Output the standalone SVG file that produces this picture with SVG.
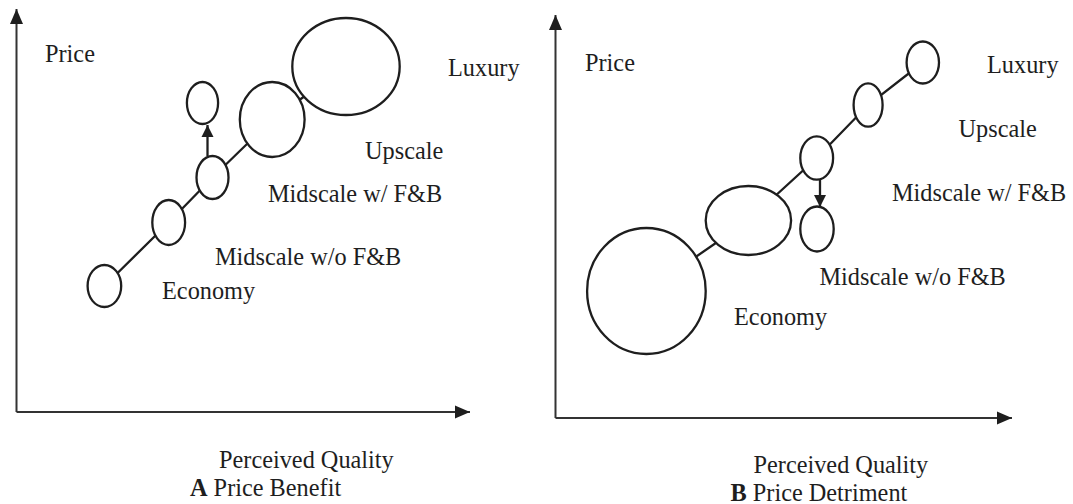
<svg xmlns="http://www.w3.org/2000/svg" width="1073" height="504" viewBox="0 0 1073 504">
<defs>
<style>
text{font-family:"Liberation Serif","Times New Roman",serif;font-size:24.3px;fill:#1e1e1e}
.b{font-weight:bold}
.n{fill:#fff;stroke:#1e1e1e;stroke-width:2.3}
.c{stroke:#1e1e1e;stroke-width:2.3;fill:none}
.ax{stroke:#333;stroke-width:2;fill:none}
</style>
<marker id="ah" markerUnits="userSpaceOnUse" markerWidth="16" markerHeight="14" refX="15" refY="7" orient="auto"><path d="M0,0.5L15,7L0,13.5Z" fill="#1e1e1e"/></marker>
<marker id="sh" markerUnits="userSpaceOnUse" markerWidth="14" markerHeight="13" refX="12" refY="6.5" orient="auto"><path d="M0,0.5L12,6.5L0,12.5Z" fill="#1e1e1e"/></marker>
</defs>
<rect width="1073" height="504" fill="#fff"/>
<g id="connectors">
<path class="ax" d="M16.5,412V9" marker-end="url(#ah)"/>
<path class="ax" d="M16.5,412H470" marker-end="url(#ah)"/>
<path class="ax" d="M555.5,418V15" marker-end="url(#ah)"/>
<path class="ax" d="M555.5,418H1012" marker-end="url(#ah)"/>
<polyline class="c" points="104.4,286 168.7,222.5 212.5,177.5 272.2,119.5 346,66.5"/>
<path class="c" d="M207.5,156V125" marker-end="url(#sh)"/>
<polyline class="c" points="922.8,62.5 868.1,105 816.7,158 748.4,220.5 646.4,291"/>
<path class="c" d="M820,180V207" marker-end="url(#sh)"/>
</g>
<g id="panel-a">
<g id="a-luxury"><ellipse class="n" cx="346" cy="66.5" rx="53.7" ry="48.5"/><text x="448" y="76">Luxury</text></g>
<g id="a-upscale"><ellipse class="n" cx="272.2" cy="119.5" rx="32.4" ry="37.5"/><text x="365" y="159">Upscale</text></g>
<g id="a-moved"><ellipse class="n" cx="202.5" cy="103" rx="15.6" ry="21"/></g>
<g id="a-midfb"><ellipse class="n" cx="212.5" cy="177.5" rx="16" ry="21.5"/><text x="268" y="202">Midscale w/ F&amp;B</text></g>
<g id="a-midnofb"><ellipse class="n" cx="168.7" cy="222.5" rx="16.4" ry="22.5"/><text x="215" y="265">Midscale w/o F&amp;B</text></g>
<g id="a-economy"><ellipse class="n" cx="104.4" cy="286" rx="16.8" ry="21"/><text x="162" y="299">Economy</text></g>
<text x="45" y="62">Price</text>
<text x="219" y="468">Perceived Quality</text>
<text x="190" y="496"><tspan class="b">A</tspan> Price Benefit</text>
</g>
<g id="panel-b">
<g id="b-luxury"><ellipse class="n" cx="922.8" cy="62.5" rx="16.2" ry="21"/><text x="987" y="73">Luxury</text></g>
<g id="b-upscale"><ellipse class="n" cx="868.1" cy="105" rx="14.5" ry="21.7"/><text x="958.5" y="137">Upscale</text></g>
<g id="b-midfb"><ellipse class="n" cx="816.7" cy="158" rx="16.4" ry="21.7"/><text x="892" y="201">Midscale w/ F&amp;B</text></g>
<g id="b-moved"><ellipse class="n" cx="817" cy="229" rx="16.7" ry="22.5"/></g>
<g id="b-midnofb"><ellipse class="n" cx="748.4" cy="220.5" rx="42.7" ry="34.5"/><text x="819.5" y="285">Midscale w/o F&amp;B</text></g>
<g id="b-economy"><ellipse class="n" cx="646.4" cy="291" rx="59.3" ry="63"/><text x="734" y="325">Economy</text></g>
<text x="585" y="71">Price</text>
<text x="753.5" y="473">Perceived Quality</text>
<text x="730.5" y="501"><tspan class="b">B</tspan> Price Detriment</text>
</g>
</svg>
